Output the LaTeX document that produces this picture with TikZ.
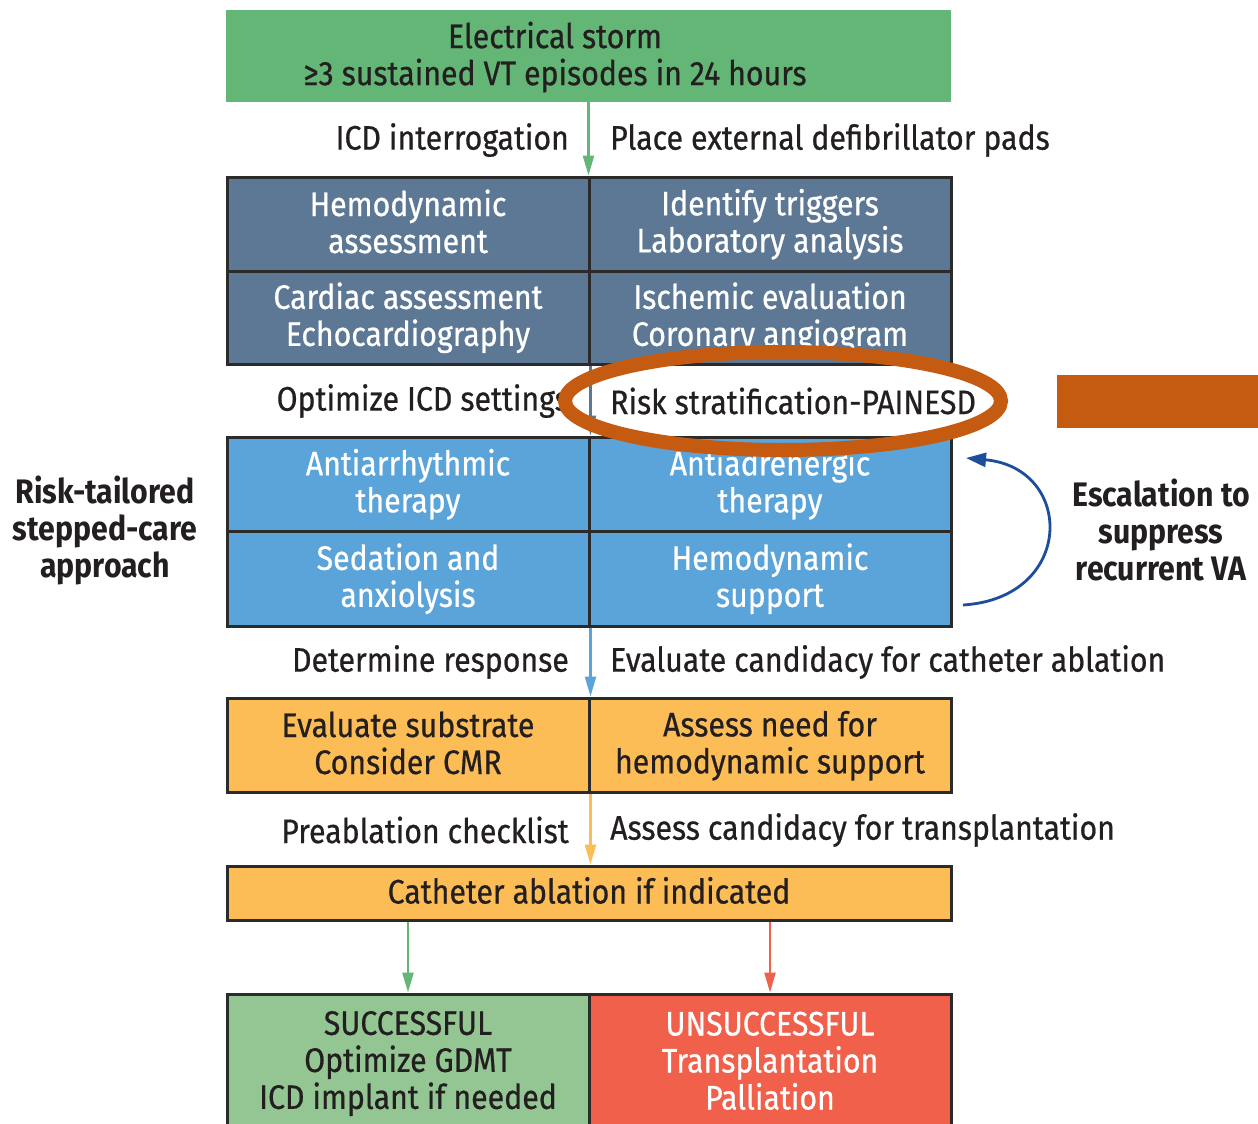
\documentclass[tikz,border=0pt]{standalone}
\usepackage{fontspec}
\setmainfont{Fira Sans}[FakeStretch=0.89]
\newfontfamily\medfont{Fira Sans}[FakeStretch=0.89,FakeBold=0.6]
\usetikzlibrary{arrows.meta}
\definecolor{gstorm}{HTML}{63B675}
\definecolor{slate}{HTML}{5C7895}
\definecolor{lblue}{HTML}{5BA4DA}
\definecolor{yel}{HTML}{FDBD56}
\definecolor{gsucc}{HTML}{93C692}
\definecolor{rfail}{HTML}{F0604B}
\definecolor{orng}{HTML}{C55A11}
\definecolor{dblue}{HTML}{1D4E9B}
\definecolor{txt}{HTML}{231F20}
\definecolor{bord}{HTML}{2B2B2B}
\newcommand\boxfont{\medfont\fontsize{34}{37}\selectfont}
\newcommand\sidefont{\fontsize{34}{37}\selectfont\bfseries}
\newcommand\cstrut{\rule[-6pt]{0pt}{33pt}}
\begin{document}
\begin{tikzpicture}[x=1pt,y=-1pt,
  cell/.style={draw=bord, line width=3pt, minimum width=362pt, minimum height=94pt,
    inner sep=0pt, align=center, font=\boxfont},
  wtext/.style={text=white},
  dtext/.style={text=txt},
  lbl/.style={font=\boxfont, text=txt, inner sep=0pt},
  side/.style={font=\sidefont, text=txt, align=center, inner sep=0pt},
  arr/.style={-{Triangle[length=20pt,width=11pt]}, line width=2.5pt}]
\useasboundingbox (0,0) rectangle (1258,1124);
\clip (0,0) rectangle (1258,1124);
\fill[white] (0,0) rectangle (1258,1124);

% top box
\node[draw=none, fill=gstorm, minimum width=725pt, minimum height=92pt, inner sep=0pt] (storm) at (588.5,56) {};
\node[lbl, align=center] (stormtext) at (555,57) {Electrical storm\\≥3 sustained VT episodes in 24 hours};

% slate grid
\node[cell, fill=slate, wtext] (hemo) at (408,224) {\cstrut Hemodynamic\\assessment\cstrut};
\node[cell, fill=slate, wtext] (trig) at (770,224) {\cstrut Identify triggers\\Laboratory analysis\cstrut};
\node[cell, fill=slate, wtext, minimum height=93pt] (card) at (408,317.5) {\cstrut Cardiac assessment\\Echocardiography\cstrut};
\node[cell, fill=slate, wtext, minimum height=93pt] (isch) at (770,317.5) {\cstrut Ischemic evaluation\\Coronary angiogram\cstrut};

% blue grid
\node[cell, fill=lblue, wtext] (anti) at (408,484) {\cstrut Antiarrhythmic\\therapy\cstrut};
\node[cell, fill=lblue, wtext] (adren) at (770,484) {\cstrut Antiadrenergic\\therapy\cstrut};
\node[cell, fill=lblue, wtext, minimum height=95pt] (sed) at (408,578.5) {\cstrut Sedation and\\anxiolysis\cstrut};
\node[cell, fill=lblue, wtext, minimum height=95pt] (hsup) at (770,578.5) {\cstrut Hemodynamic\\support\cstrut};

% yellow grid
\node[cell, fill=yel, dtext] (subs) at (408,745) {\cstrut Evaluate substrate\\Consider CMR\cstrut};
\node[cell, fill=yel, dtext] (need) at (770,745) {\cstrut Assess need for\\hemodynamic support\cstrut};

\node[cell, fill=yel, dtext, minimum width=724pt, minimum height=54pt] (cath) at (589,893) {\cstrut Catheter ablation if indicated};

% outcome
\node[cell, fill=gsucc, dtext, minimum height=136pt] (succ) at (408,1062) {\cstrut SUCCESSFUL\\Optimize GDMT\\ICD implant if needed\cstrut};
\node[cell, fill=rfail, wtext, minimum height=136pt] (fail) at (770,1062) {\cstrut UNSUCCESSFUL\\Transplantation\\Palliation\cstrut};

% connectors
\draw[arr, color=gstorm] (storm.south) -- (storm.south |- hemo.north);
\draw[arr, color=slate] (card.south east) -- (anti.north east);
\draw[arr, color=lblue] (sed.south east) -- (subs.north east);
\draw[arr, color=yel] (subs.south east) -- (subs.south east |- cath.north);
\draw[arr, color=gstorm] (cath.south -| succ.north) -- (succ.north);
\draw[arr, color=rfail] (cath.south -| fail.north) -- (fail.north);

% labels
\node[lbl, anchor=east] (icd) at (569,140) {ICD interrogation};
\node[lbl, anchor=west] (pads) at (610,140) {Place external defibrillator pads};
\node[lbl, anchor=east] (opt) at (569,401) {Optimize ICD settings};
\node[lbl, anchor=west] (risk) at (610,401) {Risk stratification-PAINESD};
\node[lbl, anchor=east] (resp) at (569,662) {Determine response};
\node[lbl, anchor=west] (cand) at (610,662) {Evaluate candidacy for catheter ablation};
\node[lbl, anchor=east] (check) at (569,830) {Preablation checklist};
\node[lbl, anchor=west] (trans) at (610,830) {Assess candidacy for transplantation};

\node[side] (tailored) at (105,530) {Risk-tailored\\stepped-care\\approach};
\node[side] (escal) at (1161,530) {Escalation to\\suppress\\recurrent VA};

% escalation loop
\coordinate (loopstart) at (963,605);
\coordinate (loopend) at (966,458);
\draw[dblue, line width=2.8pt, -{Triangle[length=20pt,width=14pt]}]
  (loopstart) .. controls (1075,598) and (1075,468) .. (loopend);

% orange highlight
\draw[orng, line width=14pt] (783,401) ellipse [x radius=218, y radius=49];
\fill[orng] (1057,375) rectangle (1258,428);
\end{tikzpicture}
\end{document}
